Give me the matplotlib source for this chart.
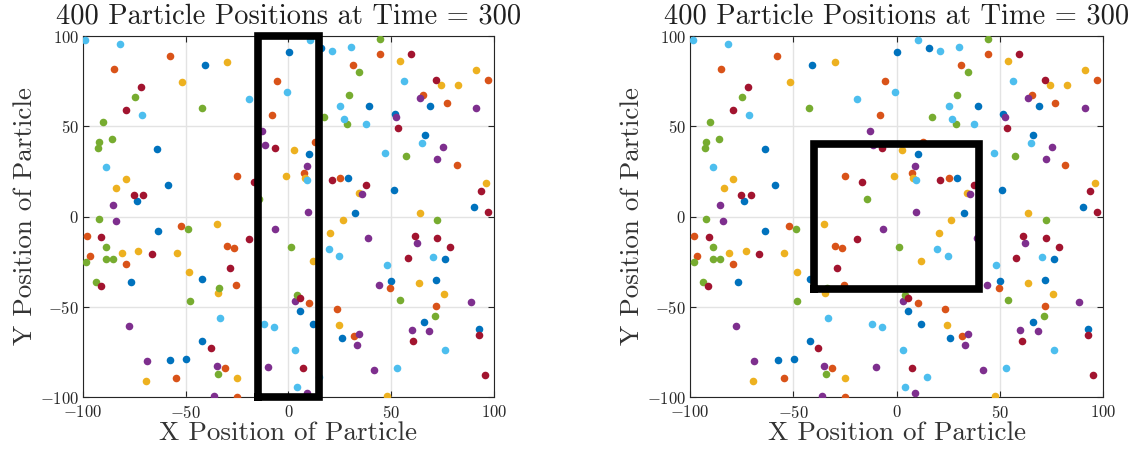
import matplotlib
matplotlib.use('Agg')
import matplotlib.pyplot as plt

plt.rcParams['font.family'] = ['cmr10', 'DejaVu Serif']
plt.rcParams['axes.unicode_minus'] = False
plt.rcParams['axes.formatter.use_mathtext'] = True

# MATLAB 默认配色
c_blue = '#0072BD'
c_orange = '#D95319'
c_yellow = '#EDB120'
c_purple = '#7E2F8E'
c_green = '#77AC30'
c_cyan = '#4DBEEE'
c_red = '#A2142F'

# 粒子位置（按颜色分组）
cyan_x = [-98.8, -81.8, -71.5, -88.9, 10.4, 21.3, 30.3, -0.6, -19.1, 25.3, 26.8, 9.2, 56.4, 37.5,
          64.9, 47.2, -33.4, 19.8, 24.7, -12.0, -7.0, 3.1, 14.8, 4.2, 70.4, 48.0, 76.2, 53.0]
cyan_y = [97.6, 95.8, 56.2, 27.7, 97.7, 91.6, 93.8, 69.2, 64.9, 61.4, 54.0, 20.1, 75.3, 51.0,
          40.8, 35.1, -56.2, -18.2, -21.8, -59.7, -61.2, -74.2, -89.0, -94.3, -22.5, -26.9, -74.2, -83.8]

blue_x = [-40.7, -63.9, -58.7, -73.8, 0.2, 15.6, 10.2, 29.1, 32.6, 39.4, 68.8, 51.7, 66.2, 51.2, 90.2,
          -63.7, -42.0, -76.7, -42.0, -57.6, -49.8, 5.4, 12.0, 26.1, 76.1, 50.1, 71.9, 66.0, 92.6]
blue_y = [83.8, 37.3, 17.3, 8.4, 91.0, 93.4, 34.6, 21.2, 1.8, 61.0, 61.4, 56.8, 45.4, 14.7, 5.4,
          -7.9, -34.7, -36.0, -68.8, -79.3, -78.8, -52.3, -59.3, -67.1, -23.6, -35.5, -34.9, -58.4, -62.1]

orange_x = [-57.9, -85.0, 31.3, -5.8, -7.9, 13.0, -25.0, 7.5, 25.2, 44.3, 97.3, 65.4, 76.9, 81.8, -98.0,
            -52.1, -96.8, -79.0, -54.6, -29.7, -26.6, -25.5, 10.2, 23.7, 31.8, -31.1, -25.0, 49.5, 71.9]
orange_y = [89.2, 82.0, 83.8, 75.1, 56.0, 41.4, 22.5, 24.0, 21.2, 89.9, 75.4, 67.1, 62.9, 28.4, -10.6,
            -5.1, -21.6, -26.4, -89.7, -16.4, -17.5, -37.7, -48.1, -51.2, -66.4, -84.0, -100.0, -39.7, -49.7]

yellow_x = [-51.7, -79.3, -83.7, -29.8, 2.6, -1.0, 7.9, 34.1, 26.6, 54.2, 91.3, 74.1, 82.6, 96.0, 63.9,
            -34.9, -80.9, -73.1, -54.3, -48.3, -34.4, -69.4, 20.4, 12.0, 24.5, -25.0, 63.6, 75.6, 47.7]
yellow_y = [74.3, 21.0, 15.8, 85.6, 36.8, 22.7, 21.2, 13.1, -1.9, 86.4, 81.0, 72.9, 72.7, 18.8, 1.9,
            -4.4, -20.1, -19.0, -20.1, -31.0, -42.3, -91.2, -9.0, -24.6, -59.9, -89.3, -36.9, -42.9, -99.2]

purple_x = [-85.3, -83.8, -12.7, -11.2, 8.9, 9.4, 63.9, 91.3, 52.4, 75.3, 72.2, 35.8, -77.7, -69.0, -34.9,
            -36.3, -6.5, 3.1, 34.5, 33.1, -10.1, 8.9, 38.8, 62.3, 43.8, 88.6, 59.9, 68.5, 41.8]
purple_y = [6.2, -2.5, 47.5, 39.6, 28.1, 2.7, 65.6, 59.9, 54.9, 38.4, 31.9, 12.3, -60.8, -80.1, -82.9,
            -99.2, -6.8, -46.9, -65.1, -71.0, -83.1, -97.7, -11.8, -14.9, -37.9, -47.3, -62.9, -63.2, -85.1]

green_x = [-74.8, -42.3, -90.3, -86.1, -92.3, -92.6, -92.3, 29.3, 17.2, 28.6, 34.5, -14.5, 44.5, 57.4,
           72.5, -48.8, -89.0, -89.0, -85.3, -98.3, -93.6, -33.7, -48.0, -34.1, 1.3, 4.2, 54.2, 71.2]
green_y = [66.0, 59.9, 52.5, 42.9, 41.2, 38.2, -1.2, 67.1, 54.9, 51.2, 80.1, 9.6, 98.4, 33.8,
           -1.8, -7.1, -16.9, -23.4, -23.8, -25.3, -36.0, -39.6, -46.9, -87.1, -17.1, -43.6, -46.2, -55.3]

red_x = [-71.7, -79.3, -75.3, -70.7, -6.8, -16.9, 21.3, 59.4, 71.9, 53.4, 37.6, 93.6, 97.2, -91.0,
         -66.5, -91.3, -37.8, -19.1, -28.7, 5.5, 7.3, 61.5, 72.5, 78.5, 58.0, 92.5, 60.8, 95.4]
red_y = [71.6, 59.0, 12.1, 12.1, 38.2, 19.3, 20.3, 90.1, 75.5, 49.3, 17.3, 14.2, 2.3, -11.6,
         -20.5, -38.6, -72.7, -12.5, -28.4, -45.4, -83.8, -10.7, -11.8, -16.8, -23.1, -65.8, -69.2, -87.9]

groups = [(blue_x, blue_y, c_blue), (orange_x, orange_y, c_orange), (yellow_x, yellow_y, c_yellow),
          (purple_x, purple_y, c_purple), (green_x, green_y, c_green), (cyan_x, cyan_y, c_cyan),
          (red_x, red_y, c_red)]

ticks = [-100, -50, 0, 50, 100]
title = '400 Particle Positions at Time = 300'

# 两个框：左边是竖条，右边是正方形
box_left_x = [-15, 15, 15, -15, -15]
box_left_y = [-100, -100, 100, 100, -100]
box_right_x = [-40, 40, 40, -40, -40]
box_right_y = [-40, -40, 40, 40, -40]


def draw_panel(fig, rect, bx, by):
    ax = fig.add_axes(rect)
    for gx, gy, col in groups:
        ax.scatter(gx, gy, s=30, color=col, linewidths=0, zorder=3)
    ax.plot(bx, by, color='k', linewidth=5.5, clip_on=False, zorder=5,
            solid_joinstyle='miter')
    ax.set_xlim(-100, 100)
    ax.set_ylim(-100, 100)
    ax.set_xticks(ticks)
    ax.set_yticks(ticks)
    ax.grid(True, color='#e3e3e3', linewidth=1.0, zorder=0)
    ax.set_axisbelow(True)
    ax.tick_params(direction='in', length=4, width=0.8, top=True, right=True,
                   labelsize=12, colors='#262626')
    ax.tick_params(axis='x', pad=5)
    ax.tick_params(axis='y', pad=3)
    for sp in ax.spines.values():
        sp.set_color('#262626')
        sp.set_linewidth(0.8)
    ax.set_title(title, fontsize=20.5, color='#202020', pad=9)
    ax.set_xlabel('X Position of Particle', fontsize=19.5, color='#333333', labelpad=0)
    ax.set_ylabel('Y Position of Particle', fontsize=19.5, color='#333333', labelpad=2)
    return ax


def main():
    fig = plt.figure(figsize=(11.43, 4.51), dpi=100)
    draw_panel(fig, [0.0726, 0.1197, 0.3596, 0.8004], box_left_x, box_left_y)
    draw_panel(fig, [0.6037, 0.1197, 0.3613, 0.8004], box_right_x, box_right_y)
    fig.savefig('out.png', dpi=100)


if __name__ == '__main__':
    main()
